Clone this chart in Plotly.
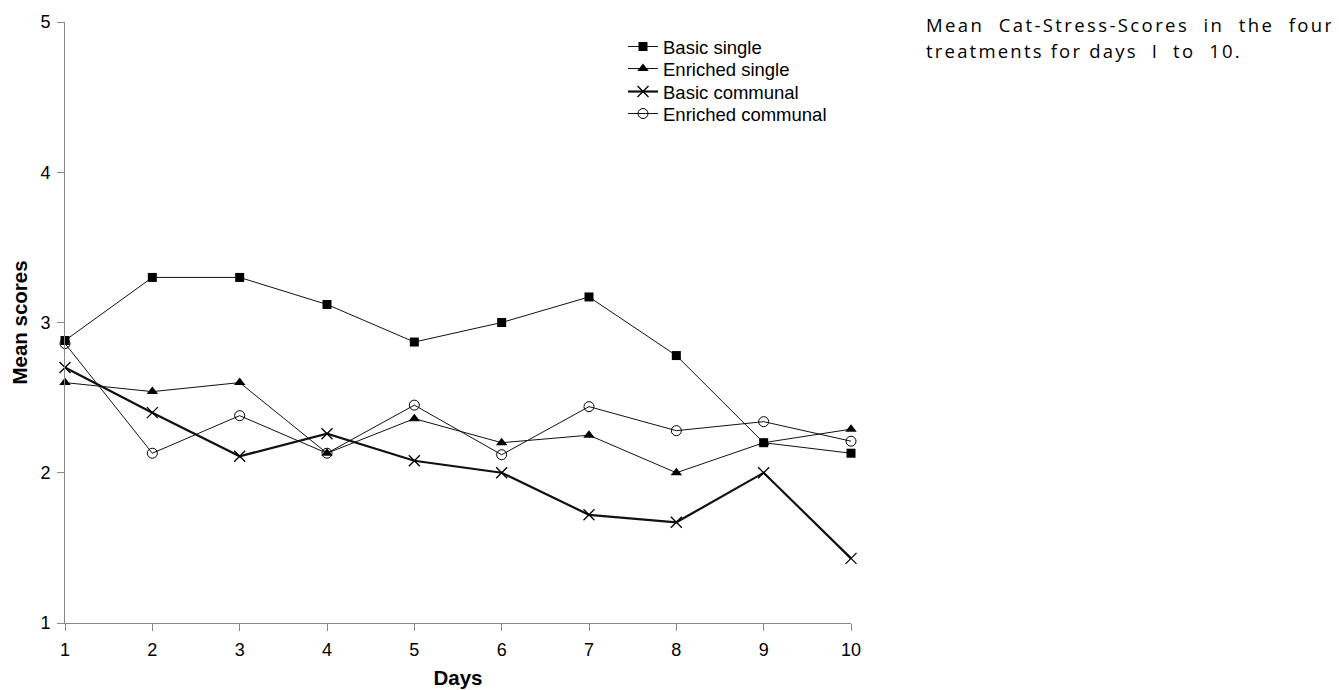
import plotly.graph_objects as go

days = [1, 2, 3, 4, 5, 6, 7, 8, 9, 10]
basic_single = [2.88, 3.30, 3.30, 3.12, 2.87, 3.00, 3.17, 2.78, 2.20, 2.13]
enriched_single = [2.60, 2.54, 2.60, 2.13, 2.36, 2.20, 2.25, 2.00, 2.20, 2.29]
basic_communal = [2.70, 2.40, 2.11, 2.26, 2.08, 2.00, 1.72, 1.67, 2.00, 1.43]
enriched_communal = [2.86, 2.13, 2.38, 2.13, 2.45, 2.12, 2.44, 2.28, 2.34, 2.21]
y_ticks = [1, 2, 3, 4, 5]

# plot area in page pixels (page has an 8px body margin)
PL, PT, PW, PH = 65, 22, 786, 601


def py2paper(py):
    return 1 - (py - PT) / PH


def px2paper(px):
    return (px - PL) / PW


fig = go.Figure()
fig.add_trace(go.Scatter(x=days, y=basic_single, name="Basic single", mode="lines+markers",
                         cliponaxis=False, line=dict(color="#111", width=1), legend="legend",
                         marker=dict(symbol="square", size=9, color="#000")))
fig.add_trace(go.Scatter(x=days, y=enriched_single, name="Enriched single", mode="lines+markers",
                         cliponaxis=False, line=dict(color="#111", width=1), legend="legend2",
                         marker=dict(symbol="triangle-up", size=10, color="#000")))
fig.add_trace(go.Scatter(x=days, y=basic_communal, name="Basic communal", mode="lines+markers",
                         cliponaxis=False, line=dict(color="#111", width=2.2), legend="legend3",
                         marker=dict(symbol="x-thin-open", size=11, color="#000",
                                     line=dict(width=1.3, color="#000"))))
fig.add_trace(go.Scatter(x=days, y=enriched_communal, name="Enriched communal", mode="lines+markers",
                         cliponaxis=False, line=dict(color="#111", width=1), legend="legend4",
                         marker=dict(symbol="circle-open", size=10, color="#000",
                                     line=dict(width=1, color="#000"))))

axis_font = dict(family="Liberation Sans, Arial", size=18, color="#000")
title_font = dict(family="Liberation Sans, Arial", size=20.5, color="#000")
leg_font = dict(family="Liberation Sans, Arial", size=18.5, color="#000")


def leg(py):
    return dict(x=px2paper(623), y=py2paper(py), xanchor="left", yanchor="middle",
                font=leg_font, bgcolor="rgba(0,0,0,0)", itemwidth=30)


fig.update_layout(
    width=1331, height=682,
    paper_bgcolor="white", plot_bgcolor="white",
    margin=dict(l=PL - 8, r=1331 - (PL - 8) - PW, t=PT - 8, b=682 - (PT - 8) - PH),
    showlegend=True,
    legend=leg(47), legend2=leg(69), legend3=leg(92), legend4=leg(114),
    xaxis=dict(range=[1, 10], tickvals=days, ticktext=[str(d) for d in days],
               showgrid=False, zeroline=False, showline=True, linecolor="#888", linewidth=1,
               ticks="outside", ticklen=7, tickcolor="#888", tickfont=axis_font,
               ticklabelstandoff=3, automargin=False,
               title=dict(text="<b>Days</b>", font=title_font, standoff=12)),
    yaxis=dict(range=[1, 5], tickvals=y_ticks,
               showgrid=False, zeroline=False, showline=True, linecolor="#888", linewidth=1,
               ticks="outside", ticklen=7, tickcolor="#888", tickfont=axis_font,
               ticklabelstandoff=3, automargin=False,
               title=dict(text="<b>Mean scores</b>", font=title_font, standoff=8)),
)

cap_font = dict(family="Open Sans", size=18.5, color="#000")
fig.add_annotation(xref="paper", yref="paper", x=px2paper(924), y=py2paper(25),
                   xanchor="left", yanchor="middle", showarrow=False, align="left",
                   text='<span style="letter-spacing:2.4px">Mean&nbsp;&nbsp;Cat-Stress-Scores&nbsp;&nbsp;in&nbsp;&nbsp;the&nbsp;&nbsp;four</span>',
                   font=cap_font)
fig.add_annotation(xref="paper", yref="paper", x=px2paper(924), y=py2paper(51),
                   xanchor="left", yanchor="middle", showarrow=False, align="left",
                   text='<span style="letter-spacing:2.2px">treatments for days&nbsp;&nbsp;I&nbsp;&nbsp;to&nbsp;&nbsp;10.</span>',
                   font=cap_font)

fig.write_html("out.html")
